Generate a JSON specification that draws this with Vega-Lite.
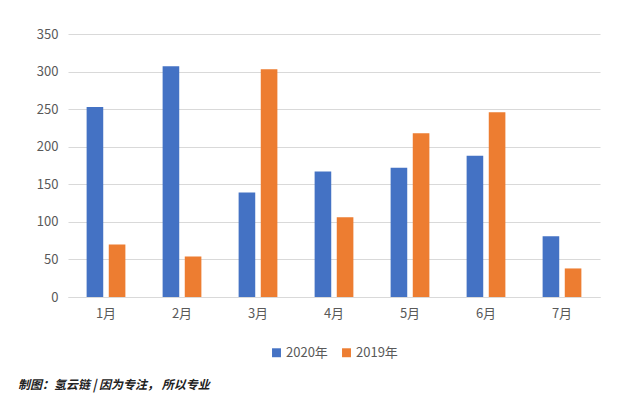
{
  "$schema": "https://vega.github.io/schema/vega-lite/v6.json",
  "width": 640,
  "height": 402,
  "autosize": {"type": "fit", "contains": "padding"},
  "padding": {"left": 18, "top": 28, "right": 40, "bottom": 11},
  "background": "white",
  "data": {
    "values": [
      {"month": "1月", "year": "2020年", "value": 253},
      {"month": "1月", "year": "2019年", "value": 70},
      {"month": "2月", "year": "2020年", "value": 307},
      {"month": "2月", "year": "2019年", "value": 54},
      {"month": "3月", "year": "2020年", "value": 139},
      {"month": "3月", "year": "2019年", "value": 303},
      {"month": "4月", "year": "2020年", "value": 167},
      {"month": "4月", "year": "2019年", "value": 106},
      {"month": "5月", "year": "2020年", "value": 172},
      {"month": "5月", "year": "2019年", "value": 218},
      {"month": "6月", "year": "2020年", "value": 188},
      {"month": "6月", "year": "2019年", "value": 246},
      {"month": "7月", "year": "2020年", "value": 81},
      {"month": "7月", "year": "2019年", "value": 38}
    ]
  },
  "title": {
    "text": "制图：氢云链 | 因为专注， 所以专业",
    "orient": "bottom",
    "anchor": "start",
    "frame": "bounds",
    "font": "Noto Sans CJK SC",
    "fontSize": 12,
    "fontWeight": "bold",
    "fontStyle": "italic",
    "color": "#222222",
    "offset": 20
  },
  "mark": {"type": "bar"},
  "encoding": {
    "x": {
      "field": "month",
      "type": "nominal",
      "sort": null,
      "scale": {"paddingInner": 0.49, "paddingOuter": 0.245},
      "axis": {"title": null, "labelAngle": 0, "ticks": false, "domain": true, "domainColor": "#D9D9D9", "labelPadding": 10}
    },
    "xOffset": {
      "field": "year",
      "type": "nominal",
      "sort": ["2020年", "2019年"],
      "scale": {"paddingInner": 0.25}
    },
    "y": {
      "field": "value",
      "type": "quantitative",
      "scale": {"domain": [0, 350]},
      "axis": {"title": null, "values": [0, 50, 100, 150, 200, 250, 300, 350], "ticks": false, "domain": false, "labelPadding": 10, "minExtent": 50, "gridColor": "#D9D9D9"}
    },
    "color": {
      "field": "year",
      "type": "nominal",
      "sort": ["2020年", "2019年"],
      "scale": {"domain": ["2020年", "2019年"], "range": ["#4472C4", "#ED7D31"]},
      "legend": {"title": null, "orient": "bottom", "direction": "horizontal", "offset": 26, "symbolType": "square", "symbolSize": 80, "columnPadding": 12, "labelOffset": 3}
    }
  },
  "config": {
    "view": {"stroke": null},
    "font": "Noto Sans CJK SC",
    "axis": {"labelFont": "Noto Sans CJK SC", "labelFontSize": 13, "labelColor": "#595959"},
    "legend": {"labelFont": "Noto Sans CJK SC", "labelFontSize": 13, "labelColor": "#595959", "symbolStrokeWidth": 0, "layout": {"bottom": {"anchor": "middle"}}}
  }
}
